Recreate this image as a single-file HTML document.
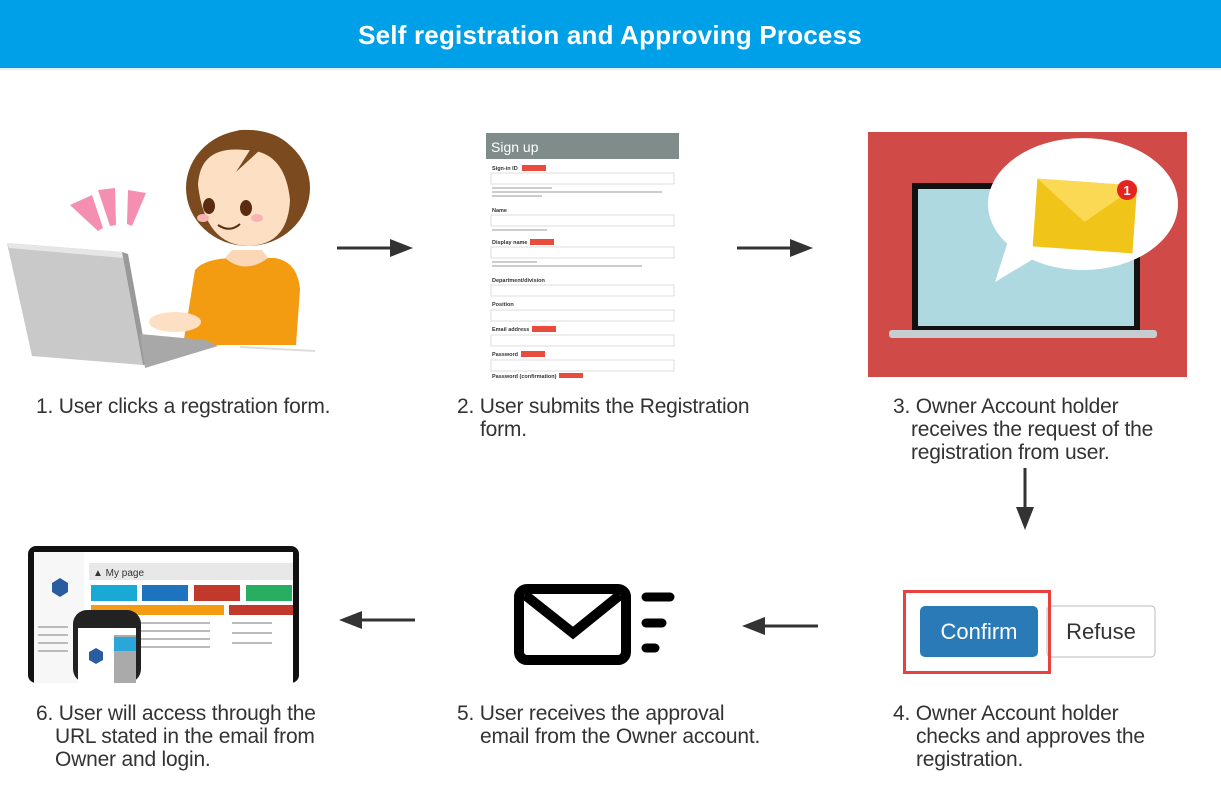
<!DOCTYPE html>
<html><head><meta charset="utf-8"><style>
html,body{margin:0;padding:0;background:#fff;width:1221px;height:800px;overflow:hidden}
svg{display:block}
.t{font-family:"Liberation Sans",sans-serif;font-size:21px;fill:#333;letter-spacing:-0.2px}
.s{font-family:"Liberation Sans",sans-serif}
</style></head><body>
<svg width="1221" height="800" viewBox="0 0 1221 800" xmlns="http://www.w3.org/2000/svg">
<rect x="0" y="0" width="1221" height="68" fill="#00a0e9"/>
<rect x="0" y="68" width="1221" height="2" fill="#dff1fb"/>
<text x="610" y="44" text-anchor="middle" class="s" font-size="26" font-weight="bold" fill="#fff" letter-spacing="0.2">Self registration and Approving Process</text>

<!-- Step 1 illustration -->
<g>
<polygon points="70,205 92,195 103,228 98,231" fill="#f48fb1"/>
<polygon points="98,190 115,188 116,225 110,226" fill="#f48fb1"/>
<polygon points="128,190 146,193 132,226 127,224" fill="#f48fb1"/>
<path d="M183,345 L195,270 Q205,258 235,258 L275,258 Q298,262 300,290 L296,345 Z" fill="#f39c12"/>
<path d="M225,258 Q245,275 268,258 L262,250 L232,250 Z" fill="#fbd7b8"/>
<ellipse cx="248" cy="188" rx="62" ry="58" fill="#7b4a1e"/>
<path d="M198,185 Q200,145 245,150 Q285,150 290,200 Q288,245 248,246 Q205,245 198,185 Z" fill="#fde0c4"/>
<path d="M195,175 Q215,140 250,150 L236,172 L260,150 Q285,160 292,200 L300,160 Q285,128 240,130 Q196,140 195,175 Z" fill="#7b4a1e"/>
<ellipse cx="209" cy="206" rx="6" ry="8" fill="#5a2d12"/>
<ellipse cx="246" cy="208" rx="6" ry="8" fill="#5a2d12"/>
<ellipse cx="203" cy="218" rx="6" ry="4" fill="#f8b4b4"/>
<ellipse cx="257" cy="218" rx="6" ry="4" fill="#f8b4b4"/>
<path d="M218,225 Q230,233 240,224" stroke="#5a2d12" stroke-width="2" fill="none"/>
<ellipse cx="175" cy="322" rx="26" ry="10" fill="#fde0c4"/>
<polygon points="7,243 122,252 143,365 32,356" fill="#c9c9c9"/>
<polygon points="7,243 122,252 124,258 9,248" fill="#e6e6e6"/>
<polygon points="122,252 128,254 148,364 143,365" fill="#999"/>
<polygon points="140,334 205,340 218,346 145,368" fill="#a8a8a8"/>
<line x1="240" y1="347" x2="315" y2="351" stroke="#ddd" stroke-width="2"/>
</g>
<text class="t" x="36" y="413">1. User clicks a regstration form.</text>

<line x1="337" y1="248" x2="395" y2="248" stroke="#333" stroke-width="3"/>
<polygon points="390,239 413,248 390,257" fill="#333"/>

<!-- Step 2 form -->
<g class="s">
<rect x="486" y="133" width="193" height="245" fill="#fff"/>
<rect x="486" y="133" width="193" height="26" fill="#7f8c8a"/>
<text x="491" y="152" font-size="14" fill="#fff">Sign up</text>
<g font-size="5.5" font-weight="bold" fill="#333">
<text x="492" y="170">Sign-in ID</text><rect x="522" y="165" width="24" height="6" fill="#e74c3c"/>
<rect x="491" y="173" width="183" height="11" fill="#fff" stroke="#ddd"/>
<text x="492" y="212">Name</text>
<rect x="491" y="215" width="183" height="11" fill="#fff" stroke="#ddd"/>
<text x="492" y="244">Display name</text><rect x="530" y="239" width="24" height="6" fill="#e74c3c"/>
<rect x="491" y="247" width="183" height="11" fill="#fff" stroke="#ddd"/>
<text x="492" y="282">Department/division</text>
<rect x="491" y="285" width="183" height="11" fill="#fff" stroke="#ddd"/>
<text x="492" y="306">Position</text>
<rect x="491" y="310" width="183" height="11" fill="#fff" stroke="#ddd"/>
<text x="492" y="331">Email address</text><rect x="532" y="326" width="24" height="6" fill="#e74c3c"/>
<rect x="491" y="335" width="183" height="11" fill="#fff" stroke="#ddd"/>
<text x="492" y="356">Password</text><rect x="521" y="351" width="24" height="6" fill="#e74c3c"/>
<rect x="491" y="360" width="183" height="11" fill="#fff" stroke="#ddd"/>
<text x="492" y="378">Password (confirmation)</text><rect x="559" y="373" width="24" height="5" fill="#e74c3c"/>
</g>
<g fill="#ccc"><rect x="492" y="187" width="60" height="2"/><rect x="492" y="191" width="170" height="2"/><rect x="492" y="195" width="50" height="2"/><rect x="492" y="229" width="55" height="2"/><rect x="492" y="261" width="45" height="2"/><rect x="492" y="265" width="150" height="2"/></g>
</g>
<text class="t" x="457" y="413">2. User submits the Registration</text>
<text class="t" x="480" y="436">form.</text>

<line x1="737" y1="248" x2="795" y2="248" stroke="#333" stroke-width="3"/>
<polygon points="790,239 813,248 790,257" fill="#333"/>

<!-- Step 3 -->
<rect x="868" y="132" width="319" height="245" fill="#d04a48"/>
<rect x="912" y="183" width="228" height="148" fill="#111"/>
<rect x="918" y="189" width="216" height="137" fill="#aed9e0"/>
<rect x="889" y="330" width="268" height="8" rx="3" fill="#c5cdd0"/>
<ellipse cx="1083" cy="204" rx="95" ry="66" fill="#fff"/>
<polygon points="1010,235 995,282 1040,255" fill="#fff"/>
<g transform="rotate(4 1085 215)">
<rect x="1035" y="182" width="100" height="68" fill="#f0c419"/>
<polygon points="1035,182 1135,182 1085,222" fill="#fbd955"/>
</g>
<circle cx="1127" cy="190" r="10" fill="#e52421"/>
<text x="1127" y="195" text-anchor="middle" class="s" font-size="13" font-weight="bold" fill="#fff">1</text>
<text class="t" x="893" y="413">3. Owner Account holder</text>
<text class="t" x="911" y="436">receives the request of the</text>
<text class="t" x="911" y="459">registration from user.</text>

<line x1="1025" y1="468" x2="1025" y2="512" stroke="#333" stroke-width="3"/>
<polygon points="1016,507 1025,530 1034,507" fill="#333"/>

<!-- Step 4 -->
<rect x="1047" y="606" width="108" height="51" rx="4" fill="#fff" stroke="#bbb"/>
<text x="1101" y="639" text-anchor="middle" class="s" font-size="22" fill="#333">Refuse</text>
<rect x="904.5" y="591.5" width="145" height="81" fill="none" stroke="#e8413e" stroke-width="3"/>
<rect x="920" y="606" width="118" height="51" rx="5" fill="#2a7ab8"/>
<text x="979" y="639" text-anchor="middle" class="s" font-size="22" fill="#fff">Confirm</text>
<text class="t" x="893" y="720">4. Owner Account holder</text>
<text class="t" x="916" y="743">checks and approves the</text>
<text class="t" x="916" y="766">registration.</text>

<line x1="818" y1="626" x2="760" y2="626" stroke="#333" stroke-width="3"/>
<polygon points="765,617 742,626 765,635" fill="#333"/>

<!-- Step 5 -->
<rect x="519" y="589" width="107" height="71" rx="8" fill="none" stroke="#000" stroke-width="10"/>
<polyline points="525,595 573,633 620,595" fill="none" stroke="#000" stroke-width="10"/>
<g stroke="#000" stroke-width="9" stroke-linecap="round">
<line x1="646" y1="597" x2="670" y2="597"/><line x1="646" y1="623" x2="662" y2="623"/><line x1="646" y1="648" x2="655" y2="648"/>
</g>
<text class="t" x="457" y="720">5. User receives the approval</text>
<text class="t" x="480" y="743">email from the Owner account.</text>

<line x1="415" y1="620" x2="357" y2="620" stroke="#333" stroke-width="3"/>
<polygon points="362,611 339,620 362,629" fill="#333"/>

<!-- Step 6 -->
<rect x="28" y="546" width="271" height="137" rx="8" fill="#111"/>
<rect x="34" y="552" width="259" height="131" fill="#fff"/>
<rect x="34" y="552" width="50" height="131" fill="#f7f7f7"/>
<polygon points="52,583 60,578 68,583 68,592 60,597 52,592" fill="#2a5d9f"/>
<rect x="89" y="563" width="204" height="17" fill="#e8e8e8"/>
<text x="93" y="576" class="s" font-size="10" fill="#333">▲ My page</text>
<rect x="91" y="585" width="46" height="16" fill="#19a9d5"/>
<rect x="142" y="585" width="46" height="16" fill="#1e73be"/>
<rect x="194" y="585" width="46" height="16" fill="#c0392b"/>
<rect x="246" y="585" width="46" height="16" fill="#27ae60"/>
<rect x="91" y="605" width="133" height="10" fill="#f39c12"/>
<rect x="229" y="605" width="64" height="10" fill="#c0392b"/>
<g fill="#bbb"><rect x="140" y="622" width="70" height="2"/><rect x="140" y="630" width="70" height="2"/><rect x="140" y="638" width="70" height="2"/><rect x="140" y="646" width="70" height="2"/><rect x="232" y="622" width="40" height="2"/><rect x="232" y="632" width="40" height="2"/><rect x="232" y="642" width="40" height="2"/><rect x="38" y="626" width="30" height="2"/><rect x="38" y="634" width="30" height="2"/><rect x="38" y="642" width="30" height="2"/><rect x="38" y="650" width="30" height="2"/></g>
<rect x="73" y="610" width="68" height="73" rx="14" fill="#222"/>
<rect x="78" y="628" width="58" height="55" fill="#fff"/>
<rect x="114" y="635" width="22" height="48" fill="#aaa"/>
<rect x="114" y="637" width="22" height="14" fill="#2aa6d8"/>
<polygon points="89,652 96,648 103,652 103,660 96,664 89,660" fill="#2a5d9f"/>
<text class="t" x="36" y="720">6. User will access through the</text>
<text class="t" x="55" y="743">URL stated in the email from</text>
<text class="t" x="55" y="766">Owner and login.</text>
</svg>
</body></html>
